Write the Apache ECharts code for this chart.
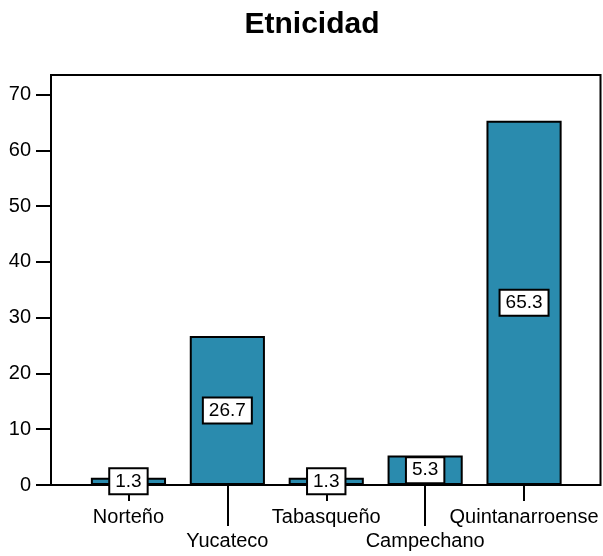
<!DOCTYPE html>
<html>
<head>
<meta charset="utf-8">
<script src="https://cdn.jsdelivr.net/npm/echarts@6/dist/echarts.min.js"></script>
<style>
html,body{margin:0;padding:0;background:#fff;}
#c{width:603px;height:556px;}
</style>
</head>
<body>
<div id="c"></div>
<script>
const titleText = 'Etnicidad';
const categories = ['Norteño', 'Yucateco', 'Tabasqueño', 'Campechano', 'Quintanarroense'];
const values = [1.3, 26.7, 1.3, 5.3, 65.3];
const yTicks = [0, 10, 20, 30, 40, 50, 60, 70];
const yMax = 73.5;

const font = 'Liberation Sans, Arial, sans-serif';
const chart = echarts.init(document.getElementById('c'), null, {renderer: 'canvas'});

chart.setOption({
  animation: false,
  backgroundColor: '#fff',
  title: {
    text: titleText,
    left: 307, textAlign: 'center',
    top: 5,
    textStyle: {fontFamily: font, fontSize: 30, fontWeight: 'bold', color: '#000'}
  },
  grid: [
    {left: 51, right: 2.5, top: 75, bottom: 71, show: true, borderColor: '#000', borderWidth: 2, backgroundColor: 'transparent'},
    {left: 79, right: 29.5, top: 75, bottom: 71}
  ],
  xAxis: [
    {gridIndex: 0, type: 'value', min: 0, max: 1, show: false},
    {
      gridIndex: 1, type: 'category', data: categories,
      axisLine: {show: false},
      axisTick: {show: true, alignWithLabel: true, length: 16, interval: (i) => i % 2 === 0, lineStyle: {color: '#000', width: 2}},
      axisLabel: {interval: (i) => i % 2 === 0, margin: 22, fontFamily: font, fontSize: 20, color: '#000'},
      splitLine: {show: false}
    },
    {
      gridIndex: 1, type: 'category', data: categories, position: 'bottom',
      axisLine: {show: false},
      axisTick: {show: true, alignWithLabel: true, length: 41, interval: (i) => i % 2 === 1, lineStyle: {color: '#000', width: 2}},
      axisLabel: {interval: (i) => i % 2 === 1, margin: 46, fontFamily: font, fontSize: 20, color: '#000'},
      splitLine: {show: false}
    }
  ],
  yAxis: [
    {
      gridIndex: 0, type: 'value', min: 0, max: yMax,
      axisLine: {show: true, lineStyle: {color: '#000', width: 2}},
      axisTick: {show: true, length: 15, customValues: yTicks, lineStyle: {color: '#000', width: 2}},
      axisLabel: {customValues: yTicks, margin: 20, fontFamily: font, fontSize: 20, color: '#000'},
      splitLine: {show: false}
    },
    {gridIndex: 1, type: 'value', min: 0, max: yMax, show: false}
  ],
  series: [{
    type: 'bar',
    xAxisIndex: 1, yAxisIndex: 1,
    data: values,
    barCategoryGap: '24%',
    itemStyle: {color: '#2A8BAE', borderColor: '#000', borderWidth: 2},
    label: {
      show: true, position: 'inside',
      fontFamily: font, fontSize: 19, color: '#000',
      backgroundColor: '#fff', borderColor: '#000', borderWidth: 2,
      padding: [3, 5, 2, 5]
    }
  }]
});
</script>
</body>
</html>
